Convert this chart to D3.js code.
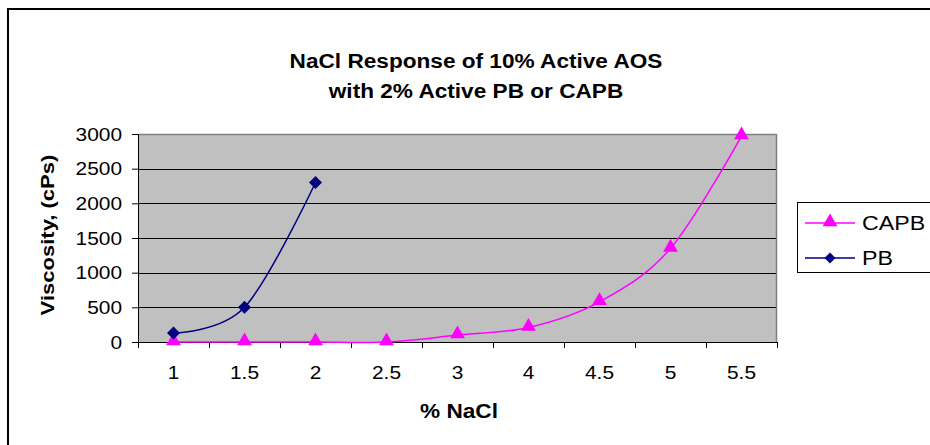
<!DOCTYPE html>
<html>
<head>
<meta charset="utf-8">
<script src="https://cdn.jsdelivr.net/npm/d3@7"></script>
<style>
  html, body { margin: 0; padding: 0; background: #fff; }
  svg { display: block; }
  text { font-family: "Liberation Sans", Arial, sans-serif; fill: #000; }
</style>
</head>
<body>
<svg id="chart" width="930" height="445"></svg>
<script>
// ---- data ----
const categories = ["1", "1.5", "2", "2.5", "3", "4", "4.5", "5", "5.5"];
const capbValues = [0, 0, 0, 0, 100, 210, 580, 1350, 2970];
const pbValues = [130, 500, 2300, null, null, null, null, null, null];
const yTicks = [0, 500, 1000, 1500, 2000, 2500, 3000];
const titleLines = ["NaCl Response of 10% Active AOS", "with 2% Active PB or CAPB"];
const seriesNames = ["CAPB", "PB"];

// ---- layout ----
const SX = 1.16; // horizontal stretch of the original text
const svg = d3.select("#chart");
const plot = { left: 138, right: 777, top: 134, bottom: 342 };

// outer chart border
svg.append("rect")
  .attr("x", 8).attr("y", 9).attr("width", 940).attr("height", 450)
  .attr("fill", "#fff").attr("stroke", "#000").attr("stroke-width", 2);

function stretchedText(parent, x, y, str, opts) {
  const t = parent.append("text")
    .attr("transform", `translate(${x},${y}) scale(${SX},1)`)
    .attr("font-size", opts.size)
    .attr("font-weight", opts.bold ? "bold" : "normal")
    .attr("text-anchor", opts.anchor || "start")
    .text(str);
  return t;
}

// title
titleLines.forEach((line, i) => {
  stretchedText(svg, 476, 68 + i * 30, line, { size: 19.5, bold: true, anchor: "middle" });
});

const x = d3.scaleBand().domain(categories).range([plot.left, plot.right]).padding(0);
const y = d3.scaleLinear().domain([0, 3000]).range([plot.bottom, plot.top]);

// plot background
svg.append("rect")
  .attr("x", plot.left).attr("y", plot.top)
  .attr("width", plot.right - plot.left).attr("height", plot.bottom - plot.top)
  .attr("fill", "#c0c0c0");

// gridlines
svg.append("g")
  .selectAll("line").data(yTicks.filter(d => d > 0 && d < 3000)).join("line")
  .attr("x1", plot.left).attr("x2", plot.right)
  .attr("y1", d => Math.round(y(d)) + 0.5).attr("y2", d => Math.round(y(d)) + 0.5)
  .attr("stroke", "#000").attr("stroke-width", 1);

// top and right plot border (grey)
svg.append("path")
  .attr("d", `M${plot.left},${plot.top + 0.5}H${plot.right - 0.5}V${plot.bottom}`)
  .attr("fill", "none").attr("stroke", "#808080").attr("stroke-width", 1.5);

// y axis
const yAxis = svg.append("g")
  .attr("transform", `translate(${plot.left},0)`)
  .call(d3.axisLeft(y).tickValues(yTicks).tickSize(6).tickPadding(0).tickFormat(d3.format("d")));
yAxis.select(".domain").attr("stroke", "#000");
yAxis.selectAll(".tick line").attr("stroke", "#000");
yAxis.selectAll(".tick text")
  .attr("x", null).attr("dy", "0.35em")
  .attr("transform", `translate(-16,0) scale(${SX},1)`)
  .attr("font-size", 18).attr("font-family", "Liberation Sans, Arial, sans-serif")
  .attr("fill", "#000");

// x axis (labels)
const xAxis = svg.append("g")
  .attr("transform", `translate(0,${plot.bottom})`)
  .call(d3.axisBottom(x).tickSize(0).tickPadding(0));
xAxis.select(".domain").attr("stroke", "#000").attr("d", `M${plot.left},0.5H${plot.right}`);
xAxis.selectAll(".tick text")
  .attr("y", null).attr("dy", null)
  .attr("transform", `translate(0,37) scale(${SX},1)`)
  .attr("font-size", 18).attr("font-family", "Liberation Sans, Arial, sans-serif")
  .attr("fill", "#000");
// category boundary ticks
const bounds = categories.map(c => x(c)).concat([x(categories[categories.length - 1]) + x.bandwidth()]);
xAxis.append("g").selectAll("line").data(bounds).join("line")
  .attr("x1", d => Math.round(d) + 0.5).attr("x2", d => Math.round(d) + 0.5)
  .attr("y1", 0).attr("y2", 6)
  .attr("stroke", "#000");

// axis titles
stretchedText(svg, 459, 418, "% NaCl", { size: 19.5, bold: true, anchor: "middle" });
svg.append("text")
  .attr("transform", `translate(54,235) rotate(-90) scale(${SX},1)`)
  .attr("font-size", 19).attr("font-weight", "bold").attr("text-anchor", "middle")
  .text("Viscosity, (cPs)");

// series
const cx = c => x(c) + x.bandwidth() / 2;
const line = d3.line()
  .defined(d => d.v !== null)
  .x(d => cx(d.c)).y(d => y(d.v))
  .curve(d3.curveCardinal.tension(0));

const capbData = categories.map((c, i) => ({ c, v: capbValues[i] }));
const pbData = categories.map((c, i) => ({ c, v: pbValues[i] }));

const triangle = d3.symbol().type(d3.symbolTriangle).size(95);
const diamond = "M0,-6.5L6.5,0L0,6.5L-6.5,0Z";

svg.append("path").datum(capbData).attr("d", line)
  .attr("fill", "none").attr("stroke", "#ff00ff").attr("stroke-width", 1.5);
svg.append("path").datum(pbData).attr("d", line)
  .attr("fill", "none").attr("stroke", "#000080").attr("stroke-width", 1.5);

svg.append("g").selectAll("path").data(capbData.filter(d => d.v !== null)).join("path")
  .attr("transform", d => `translate(${cx(d.c)},${y(d.v) - 1})`)
  .attr("d", triangle).attr("fill", "#ff00ff");
svg.append("g").selectAll("path").data(pbData.filter(d => d.v !== null)).join("path")
  .attr("transform", d => `translate(${cx(d.c)},${y(d.v)})`)
  .attr("d", diamond).attr("fill", "#000080");

// legend
const lg = svg.append("g");
lg.append("rect").attr("x", 797.5).attr("y", 202.5).attr("width", 160).attr("height", 70)
  .attr("fill", "#fff").attr("stroke", "#000").attr("stroke-width", 1);
const legendItems = [
  { name: seriesNames[0], color: "#ff00ff", mark: "tri", yy: 223 },
  { name: seriesNames[1], color: "#000080", mark: "dia", yy: 258 }
];
legendItems.forEach(it => {
  lg.append("line").attr("x1", 805).attr("x2", 855).attr("y1", it.yy).attr("y2", it.yy)
    .attr("stroke", it.color).attr("stroke-width", 1.5);
  lg.append("path")
    .attr("transform", `translate(830,${it.yy - (it.mark === "tri" ? 1 : 0)})`)
    .attr("d", it.mark === "tri" ? triangle() : "M0,-5.5L5.5,0L0,5.5L-5.5,0Z")
    .attr("fill", it.color);
  stretchedText(lg, 862, it.yy + 7, it.name, { size: 20, bold: false });
});
</script>
</body>
</html>
